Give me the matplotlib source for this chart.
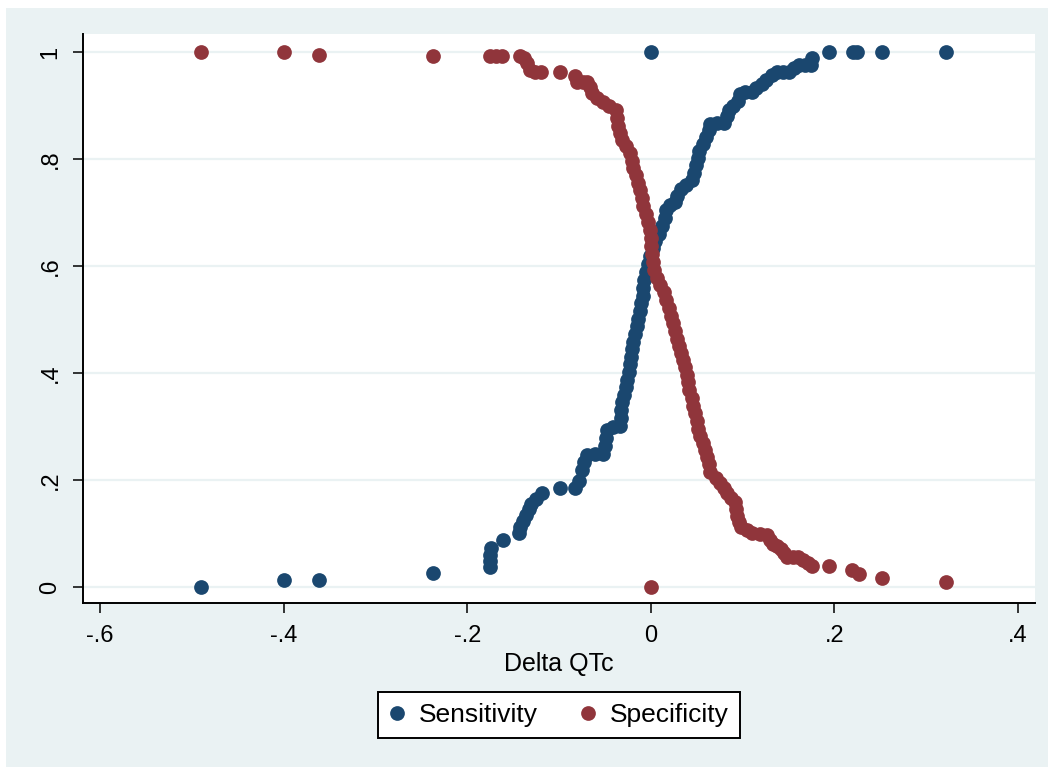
import numpy as np
import matplotlib
matplotlib.use("Agg")
import matplotlib.pyplot as plt
from matplotlib.patches import Rectangle
from matplotlib.lines import Line2D

plt.rcParams["font.family"] = ["Liberation Sans", "DejaVu Sans"]

# cut-off values and the resulting sensitivity / specificity
sens_x = [-0.490, -0.400, -0.361, -0.237, -0.175, -0.175, -0.175, -0.174, -0.161, -0.144,
          -0.142, -0.139, -0.136, -0.133, -0.130, -0.125, -0.119, -0.099, -0.083, -0.078,
          -0.075, -0.073, -0.070, -0.061, -0.052, -0.050, -0.049, -0.048, -0.041, -0.034,
          -0.033, -0.032, -0.031, -0.029, -0.027, -0.026, -0.024, -0.023, -0.022, -0.020,
          -0.019, -0.017, -0.015, -0.014, -0.012, -0.011, -0.009, -0.008, -0.007, -0.005,
          -0.003, -0.001, 0.002, 0.005, 0.009, 0.012, 0.015, 0.017, 0.021, 0.026,
          0.029, 0.033, 0.038, 0.045, 0.047, 0.049, 0.051, 0.053, 0.057, 0.060,
          0.063, 0.065, 0.072, 0.080, 0.083, 0.085, 0.090, 0.095, 0.097, 0.103,
          0.110, 0.115, 0.121, 0.126, 0.132, 0.137, 0.144, 0.150, 0.156, 0.161,
          0.168, 0.174, 0.176, 0.194, 0.220, 0.225, 0.252, 0.322, 0.000]
sens_y = [0.000, 0.013, 0.013, 0.026, 0.037, 0.049, 0.060, 0.073, 0.088, 0.101,
          0.112, 0.123, 0.135, 0.146, 0.155, 0.164, 0.176, 0.185, 0.185, 0.198,
          0.219, 0.234, 0.247, 0.249, 0.249, 0.264, 0.279, 0.293, 0.299, 0.301,
          0.316, 0.331, 0.346, 0.359, 0.374, 0.387, 0.402, 0.417, 0.430, 0.445,
          0.458, 0.473, 0.488, 0.501, 0.516, 0.531, 0.544, 0.559, 0.574, 0.589,
          0.604, 0.619, 0.634, 0.647, 0.660, 0.675, 0.690, 0.705, 0.714, 0.720,
          0.731, 0.744, 0.751, 0.761, 0.774, 0.789, 0.802, 0.815, 0.828, 0.841,
          0.854, 0.865, 0.867, 0.867, 0.880, 0.892, 0.899, 0.908, 0.921, 0.925,
          0.925, 0.933, 0.940, 0.948, 0.957, 0.963, 0.963, 0.963, 0.970, 0.976,
          0.976, 0.976, 0.989, 1.000, 1.000, 1.000, 1.000, 1.000, 1.000]

spec_x = [-0.490, -0.400, -0.361, -0.237, -0.175, -0.169, -0.162, -0.143, -0.138, -0.135,
          -0.132, -0.126, -0.120, -0.099, -0.083, -0.080, -0.074, -0.069, -0.066, -0.064,
          -0.059, -0.052, -0.045, -0.038, -0.037, -0.036, -0.034, -0.031, -0.027, -0.023,
          -0.021, -0.019, -0.016, -0.014, -0.012, -0.010, -0.008, -0.005, -0.003, -0.001,
          0.000, 0.000, 0.001, 0.002, 0.004, 0.007, 0.010, 0.014, 0.017, 0.020,
          0.022, 0.024, 0.026, 0.028, 0.031, 0.033, 0.035, 0.037, 0.039, 0.041,
          0.042, 0.045, 0.046, 0.048, 0.050, 0.051, 0.054, 0.057, 0.059, 0.061,
          0.063, 0.065, 0.071, 0.075, 0.080, 0.083, 0.087, 0.092, 0.093, 0.094,
          0.096, 0.098, 0.105, 0.110, 0.119, 0.127, 0.130, 0.133, 0.138, 0.142,
          0.145, 0.148, 0.155, 0.160, 0.166, 0.171, 0.176, 0.194, 0.219, 0.227,
          0.252, 0.322, 0.000]
spec_y = [1.000, 1.000, 0.994, 0.993, 0.993, 0.993, 0.993, 0.993, 0.989, 0.979,
          0.966, 0.963, 0.963, 0.963, 0.955, 0.944, 0.944, 0.944, 0.935, 0.923,
          0.914, 0.907, 0.899, 0.892, 0.877, 0.862, 0.849, 0.836, 0.824, 0.811,
          0.796, 0.783, 0.770, 0.755, 0.742, 0.727, 0.712, 0.697, 0.682, 0.667,
          0.652, 0.637, 0.622, 0.607, 0.593, 0.578, 0.564, 0.551, 0.536, 0.521,
          0.507, 0.493, 0.479, 0.464, 0.450, 0.437, 0.424, 0.411, 0.396, 0.383,
          0.368, 0.353, 0.338, 0.325, 0.310, 0.295, 0.282, 0.269, 0.256, 0.243,
          0.230, 0.215, 0.204, 0.194, 0.185, 0.176, 0.166, 0.159, 0.146, 0.133,
          0.121, 0.112, 0.107, 0.101, 0.099, 0.097, 0.088, 0.080, 0.077, 0.071,
          0.064, 0.056, 0.056, 0.056, 0.050, 0.045, 0.039, 0.039, 0.032, 0.024,
          0.017, 0.009, 0.000]

x_ticks = [-0.6, -0.4, -0.2, 0.0, 0.2, 0.4]
x_tick_labels = ["-.6", "-.4", "-.2", "0", ".2", ".4"]
y_ticks = [0.0, 0.2, 0.4, 0.6, 0.8, 1.0]
y_tick_labels = ["0", ".2", ".4", ".6", ".8", "1"]

navy = "#1A476F"
maroon = "#90353B"
bg = "#EAF2F3"
ms = 10.6

W, H = 1051, 771
fig = plt.figure(figsize=(W / 100, H / 100), dpi=100, facecolor="white")
fig.patches.append(Rectangle((6 / W, 4 / H), (W - 9) / W, (H - 12) / H,
                             transform=fig.transFigure, facecolor=bg,
                             edgecolor="none", zorder=-10))

ax = fig.add_axes([83 / W, 1 - 603 / H, (1035 - 83) / W, (603 - 34) / H])
ax.set_facecolor("white")

ax.plot(sens_x, sens_y, "o", color=navy, ms=ms, mec="none", label="Sensitivity", zorder=3)
ax.plot(spec_x, spec_y, "o", color=maroon, ms=ms, mec="none", label="Specificity", zorder=4)

ax.set_xlim(-0.6185, 0.4185)
ax.set_ylim(-0.0299, 1.0336)

ax.set_xticks(x_ticks)
ax.set_xticklabels(x_tick_labels)
ax.set_yticks(y_ticks)
ax.set_yticklabels(y_tick_labels)
for lab in ax.get_yticklabels():
    lab.set_rotation(90)
    lab.set_va("center")

ax.tick_params(axis="both", direction="out", length=7.5, width=1.1,
               color="black", labelsize=17, pad=8)
ax.yaxis.grid(True, color=bg, linewidth=1.6, zorder=0)
ax.xaxis.grid(False)
ax.set_axisbelow(True)

for side in ["top", "right"]:
    ax.spines[side].set_visible(False)
for side in ["left", "bottom"]:
    ax.spines[side].set_linewidth(1.4)
    ax.spines[side].set_color("black")

ax.set_xlabel("Delta QTc", fontsize=18, labelpad=4)

handles = [Line2D([], [], ls="none", marker="o", ms=ms, color=navy, mec="none"),
           Line2D([], [], ls="none", marker="o", ms=ms, color=maroon, mec="none")]
leg = fig.legend(handles, ["Sensitivity", "Specificity"], loc="center",
                 bbox_to_anchor=(559 / W, 1 - 715 / H), ncol=2, fontsize=19,
                 frameon=True, fancybox=False, edgecolor="black", facecolor="white",
                 handlelength=0.6, handletextpad=0.53, columnspacing=1.6,
                 borderpad=0.42, borderaxespad=0, framealpha=1)
leg.get_frame().set_linewidth(1.4)

fig.savefig("out.png", dpi=100, facecolor="white")
